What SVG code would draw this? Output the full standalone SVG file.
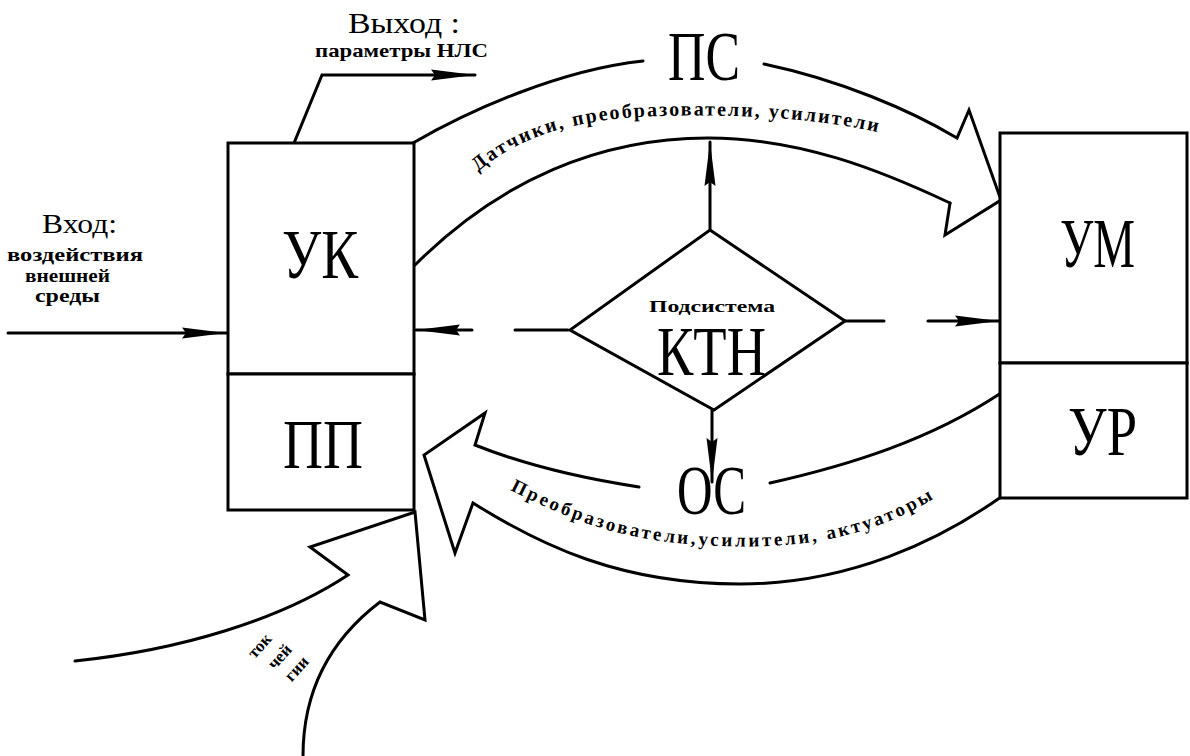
<svg xmlns="http://www.w3.org/2000/svg" width="1190" height="756" viewBox="0 0 1190 756">
<style>
.ln{fill:none;stroke:#000;stroke-width:3;stroke-linejoin:miter;stroke-linecap:round}
.box{fill:#fff;stroke:#000;stroke-width:3}
.big{font-family:"Liberation Serif",serif;font-size:70px;fill:#000}
.hd{font-family:"Liberation Serif",serif;fill:#000}
.bd{font-family:"Liberation Serif",serif;font-weight:bold;fill:#000}
</style>
<defs>
<marker id="ah" markerUnits="userSpaceOnUse" markerWidth="46" markerHeight="14" refX="44" refY="7" orient="auto">
<path d="M0,1.5 L44,7 L0,12.5 L4,7 z" fill="#000"/>
</marker>
<path id="ps" d="M 478,172 C 520,135 580,118 660,116 S 820,118 885,134"/>
<path id="os" d="M 510,490 C 570,520 620,540 700,545 S 860,545 938,496"/>
</defs>
<rect width="1190" height="756" fill="#fff"/>

<g id="connectors">
<path class="ln" d="M285,165 L322,75 L475,75" marker-end="url(#ah)"/>
<path class="ln" d="M8,333 L226,333" marker-end="url(#ah)"/>
<path class="ln" d="M413,143 C470,110 560,70 643,61"/>
<path class="ln" d="M764,64 C840,80 910,110 957,138 L969,110 L1001,200 L945,235 L950,203"/>
<path class="ln" d="M415,265 C500,180 600,138 708,138 C800,138 880,170 950,203"/>
<path class="ln" d="M1001,393 C930,440 850,465 770,483"/>
<path class="ln" d="M639,487 C580,478 520,463 475,445 L485,413 L424,455 L455,553 L473,503 C540,545 620,584 740,584 C850,584 940,540 1001,497"/>
<path class="ln" d="M75,661 C180,650 280,620 348,575 L310,547 L415,512 L425,620 L380,602 C330,640 303,690 303,756"/>
<path class="ln" d="M710,230 L710,142" marker-end="url(#ah)"/>
<path class="ln" d="M712,410 L712,482" marker-end="url(#ah)"/>
<path class="ln" d="M568,330 L515,330 M472,330 L416,330" marker-end="url(#ah)"/>
<path class="ln" d="M845,321 L884,321 M928,321 L999,321" marker-end="url(#ah)"/>
</g>

<g id="labels">
<text class="hd" x="348" y="33" font-size="29" textLength="112" lengthAdjust="spacingAndGlyphs">Выход :</text>
<text class="bd" x="315" y="57" font-size="19" textLength="173" lengthAdjust="spacingAndGlyphs">параметры НЛС</text>
<text class="hd" x="42" y="233" font-size="27" textLength="75" lengthAdjust="spacingAndGlyphs">Вход:</text>
<text class="bd" x="7" y="261" font-size="19" textLength="136" lengthAdjust="spacingAndGlyphs">воздействия</text>
<text class="bd" x="25" y="282" font-size="19" textLength="85" lengthAdjust="spacingAndGlyphs">внешней</text>
<text class="bd" x="35" y="302" font-size="19" textLength="65" lengthAdjust="spacingAndGlyphs">среды</text>
<text class="big" x="668" y="80" textLength="72" lengthAdjust="spacingAndGlyphs">ПС</text>
<text class="bd" font-size="20" letter-spacing="2"><textPath href="#ps">Датчики, преобразователи, усилители</textPath></text>
<text class="big" x="677" y="514" textLength="69" lengthAdjust="spacingAndGlyphs">ОС</text>
<text class="bd" font-size="19" letter-spacing="2.8"><textPath href="#os">Преобразователи,усилители, актуаторы</textPath></text>
<text class="bd" font-size="17" text-anchor="middle" transform="rotate(-48 260 646)" x="260" y="651">ток</text>
<text class="bd" font-size="17" text-anchor="middle" transform="rotate(-48 280 657)" x="280" y="662">чей</text>
<text class="bd" font-size="17" text-anchor="middle" transform="rotate(-48 297 669)" x="297" y="674">гии</text>
</g>

<g id="node-uk">
<rect class="box" x="228" y="143" width="186" height="231"/>
<text class="big" x="282" y="278" textLength="76" lengthAdjust="spacingAndGlyphs">УК</text>
</g>
<g id="node-pp">
<rect class="box" x="228" y="374" width="186" height="136"/>
<text class="big" x="283" y="468" textLength="80" lengthAdjust="spacingAndGlyphs">ПП</text>
</g>
<g id="node-um">
<rect class="box" x="1000" y="133" width="187" height="230"/>
<text class="big" x="1060" y="267" textLength="75" lengthAdjust="spacingAndGlyphs">УМ</text>
</g>
<g id="node-ur">
<rect class="box" x="1000" y="363" width="187" height="135"/>
<text class="big" x="1068" y="455" textLength="69" lengthAdjust="spacingAndGlyphs">УР</text>
</g>
<g id="node-ktn">
<path class="box" d="M710,230 L845,321 L714,410 L570,330 z"/>
<text class="bd" x="649" y="312" font-size="16" textLength="126" lengthAdjust="spacingAndGlyphs">Подсистема</text>
<text class="big" x="657" y="375" font-size="68" textLength="109" lengthAdjust="spacingAndGlyphs">КТН</text>
</g>
</svg>
